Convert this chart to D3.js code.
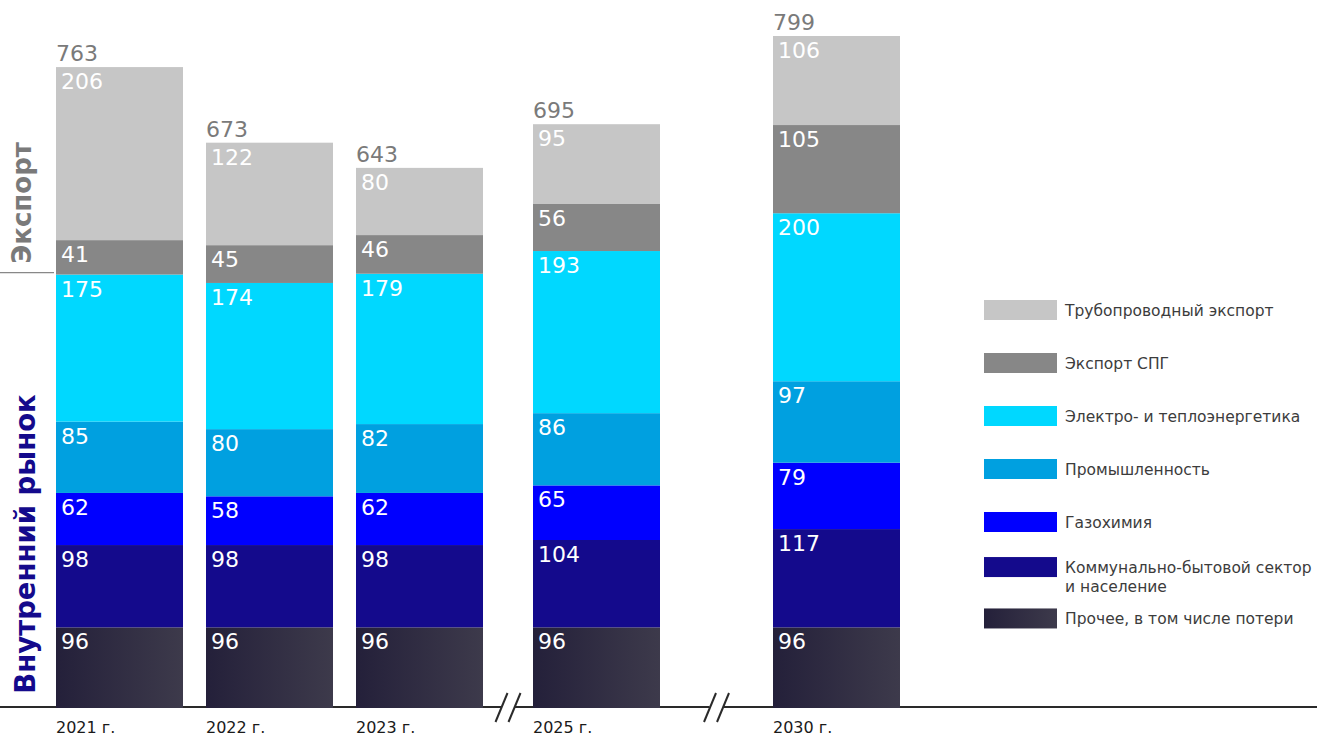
<!DOCTYPE html>
<html>
<head>
<meta charset="utf-8">
<script src="https://cdn.jsdelivr.net/npm/d3@7"></script>
<style>
  html, body { margin: 0; padding: 0; background: #fff; }
  svg { display: block; font-family: "DejaVu Sans", sans-serif; }
</style>
</head>
<body>
<svg id="chart" width="1317" height="737"></svg>
<script>
// ---------- data ----------
const years = ["2021 г.", "2022 г.", "2023 г.", "2025 г.", "2030 г."];
const slots = [0, 1, 2, 3.18, 4.78];             // horizontal slot of each year (axis has breaks)
const totals = [763, 673, 643, 695, 799];
const seriesNames = [
  "Прочее, в том числе потери",
  "Коммунально-бытовой сектор и население",
  "Газохимия",
  "Промышленность",
  "Электро- и теплоэнергетика",
  "Экспорт СПГ",
  "Трубопроводный экспорт"
];
const other      = [96, 96, 96, 96, 96];
const communal   = [98, 98, 98, 104, 117];
const gasChem    = [62, 58, 62, 65, 79];
const industry   = [85, 80, 82, 86, 97];
const power      = [175, 174, 179, 193, 200];
const lngExport  = [41, 45, 46, 56, 105];
const pipeExport = [206, 122, 80, 95, 106];
const seriesValues = [other, communal, gasChem, industry, power, lngExport, pipeExport];
const colors = ["url(#gradOther)", "#140a8c", "#0000ff", "#00a0e0", "#00d8ff", "#878787", "#c6c6c6"];
const legendOrder = [6, 5, 4, 3, 2, 1, 0];
const legendLines = {
  1: ["Коммунально-бытовой сектор", "и население"]
};
const sideLabels = ["Экспорт", "Внутренний рынок"];

// ---------- layout ----------
const svg = d3.select("#chart");
const baseY = 708;
const y = d3.scaleLinear().domain([0, 800]).range([baseY, 36]);
const x = d3.scaleLinear().domain([0, 1]).range([56, 206]);
const barW = 127;

const defs = svg.append("defs");
const g1 = defs.append("linearGradient").attr("id", "gradOther")
  .attr("x1", "0%").attr("x2", "100%").attr("y1", "0%").attr("y2", "0%");
g1.append("stop").attr("offset", "0%").attr("stop-color", "#24203a");
g1.append("stop").attr("offset", "100%").attr("stop-color", "#3d3a4b");

// table for stacking
const table = years.map((yr, i) => {
  const row = { year: yr, i };
  seriesNames.forEach((s, k) => row[s] = seriesValues[k][i]);
  return row;
});
const stacked = d3.stack().keys(seriesNames)(table);

// axis baseline with breaks
const breaks = [];
for (let i = 1; i < years.length; i++) {
  if (slots[i] - slots[i - 1] > 1.05) {
    breaks.push((x(slots[i - 1]) + barW + x(slots[i])) / 2);
  }
}
const axisG = svg.append("g");
let segStart = 0;
const segs = [];
breaks.forEach(b => { segs.push([segStart, b - 7]); segStart = b + 7; });
segs.push([segStart, 1317]);
axisG.selectAll("line.ax").data(segs).join("line")
  .attr("x1", d => d[0]).attr("x2", d => d[1])
  .attr("y1", baseY - 1).attr("y2", baseY - 1)
  .attr("stroke", "#2a2a2a").attr("stroke-width", 2.2);
breaks.forEach(b => {
  [-6.5, 6.5].forEach(o => {
    axisG.append("line")
      .attr("x1", b + o - 6).attr("y1", 722)
      .attr("x2", b + o + 6).attr("y2", 693)
      .attr("stroke", "#2a2a2a").attr("stroke-width", 2);
  });
});

// bars
const layers = svg.append("g").selectAll("g").data(stacked).join("g")
  .attr("fill", (d, k) => colors[k]);
layers.selectAll("rect").data(d => d).join("rect")
  .attr("x", d => x(slots[d.data.i]))
  .attr("width", barW)
  .attr("y", d => y(d[1]))
  .attr("height", d => y(d[0]) - y(d[1]));

// segment labels
const labG = svg.append("g");
stacked.forEach((layer, k) => {
  labG.selectAll(null).data(layer).join("text")
    .attr("x", d => x(slots[d.data.i]) + 5)
    .attr("y", d => y(d[1]) + 22)
    .attr("fill", "#fff")
    .attr("font-size", 22)
    .text(d => seriesValues[k][d.data.i]);
});

// totals
svg.append("g").selectAll("text").data(totals).join("text")
  .attr("x", (d, i) => x(slots[i]))
  .attr("y", (d, i) => y(d3.sum(seriesValues, s => s[i])) - 6)
  .attr("fill", "#7a7a7a")
  .attr("font-size", 22)
  .text(d => d);

// year labels
svg.append("g").selectAll("text").data(years).join("text")
  .attr("x", (d, i) => x(slots[i]))
  .attr("y", 733)
  .attr("fill", "#1a1a1a")
  .attr("font-size", 16)
  .text(d => d);

// side labels
const exportBoundary = y(d3.sum(seriesValues.slice(0, 5), s => s[0]));
svg.append("line")
  .attr("x1", 0).attr("x2", 54)
  .attr("y1", exportBoundary - 2).attr("y2", exportBoundary - 2)
  .attr("stroke", "#888").attr("stroke-width", 1.2);
svg.append("text")
  .attr("transform", `translate(31,203) rotate(-90)`)
  .attr("text-anchor", "middle")
  .attr("font-size", 26).attr("font-weight", "bold")
  .attr("fill", "#7a7a7a")
  .text(sideLabels[0]);
svg.append("text")
  .attr("transform", `translate(35,544) rotate(-90)`)
  .attr("text-anchor", "middle")
  .attr("font-size", 27.5).attr("font-weight", "bold")
  .attr("fill", "#140a8c")
  .text(sideLabels[1]);

// legend
const legendY = d3.scaleLinear().domain([0, 1]).range([300, 353]);
const legendRows = [0, 1, 2, 3, 4, 4.85, 5.82];
const lg = svg.append("g");
legendOrder.forEach((k, r) => {
  const yy = legendY(legendRows[r]);
  lg.append("rect").attr("x", 984).attr("y", yy).attr("width", 73).attr("height", 20)
    .attr("fill", colors[k]);
  const lines = legendLines[k] || [seriesNames[k]];
  const t = lg.append("text").attr("x", 1065).attr("y", yy + 16)
    .attr("font-size", 15.5).attr("fill", "#3c3c3c");
  lines.forEach((ln, j) => {
    t.append("tspan").attr("x", 1065).attr("dy", j === 0 ? 0 : 19).text(ln);
  });
});
</script>
</body>
</html>
